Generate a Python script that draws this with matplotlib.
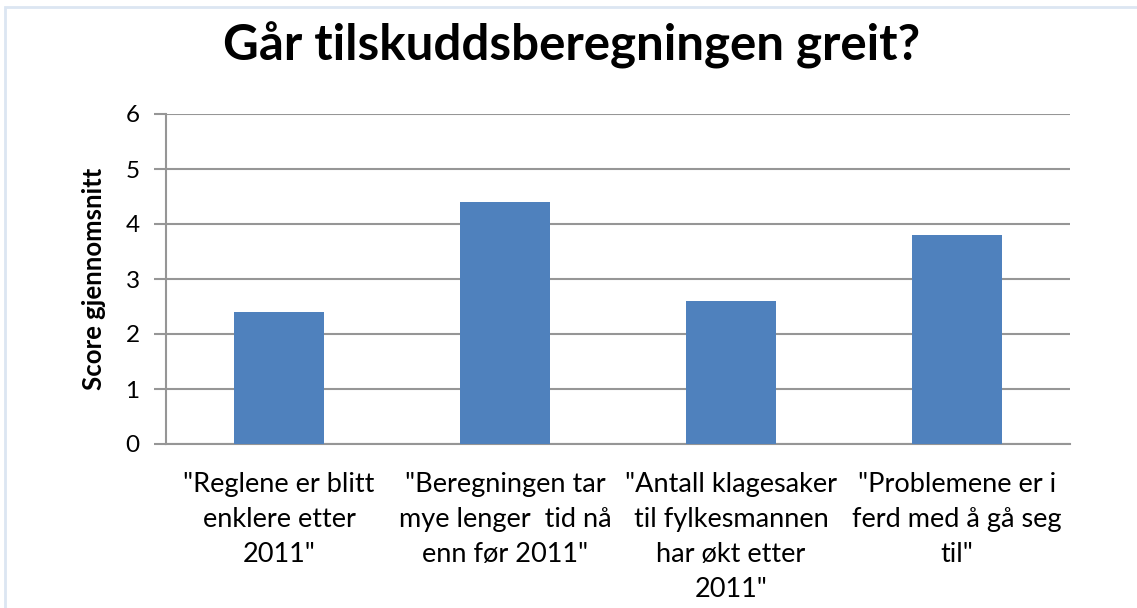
import matplotlib
matplotlib.use("Agg")
import matplotlib.pyplot as plt
from matplotlib.patches import Rectangle

categories = ['"Reglene er blitt\nenklere etter\n2011"',
              '"Beregningen tar\nmye lenger  tid nå\nenn før 2011"',
              '"Antall klagesaker\ntil fylkesmannen\nhar økt etter\n2011"',
              '"Problemene er i\nferd med å gå seg\ntil"']
values = [2.4, 4.4, 2.6, 3.8]
yticks = [0, 1, 2, 3, 4, 5, 6]
title = "Går tilskuddsberegningen greit?"
ylabel = "Score gjennomsnitt"

plt.rcParams['font.family'] = ['Lato', 'DejaVu Sans']

W, H = 1137, 608
fig = plt.figure(figsize=(W/100, H/100), dpi=100)
fig.patch.set_facecolor('white')

# outer chart border
fig.add_artist(Rectangle((5/W, -0.01), 1.2, (H-7)/H + 0.01, transform=fig.transFigure,
                         fill=False, edgecolor='#DCE6F2', linewidth=2))

ax = fig.add_axes([166/W, 1-444/H, (1070-166)/W, (444-114)/H])
x = list(range(len(categories)))
ax.bar(x, values, width=0.40, color='#4F81BD', zorder=3)
ax.set_xlim(-0.5, len(categories)-0.5)
ax.set_ylim(0, 6)
ax.set_yticks(yticks)
ax.set_yticklabels([str(t) for t in yticks], fontsize=17.5)
ax.set_xticks(x)
ax.set_xticklabels(categories, fontsize=19.5, linespacing=1.5)
ax.tick_params(axis='x', length=0, pad=20)
ax.tick_params(axis='y', length=9, width=1.5, color='#969696', pad=10)
ax.grid(axis='y', color='#969696', linewidth=1.5, zorder=0)
for s in ['top', 'right']:
    ax.spines[s].set_visible(False)
ax.spines['left'].set_color('#969696')
ax.spines['left'].set_linewidth(1.5)
ax.spines['bottom'].set_color('#969696')
ax.spines['bottom'].set_linewidth(1.5)
ax.set_ylabel(ylabel, fontsize=18.5, fontweight='bold', labelpad=14)

fig.text(572/W, 1-45/H, title, ha='center', va='center', fontsize=35.5, fontweight='bold')

fig.savefig('out.png', dpi=100)
